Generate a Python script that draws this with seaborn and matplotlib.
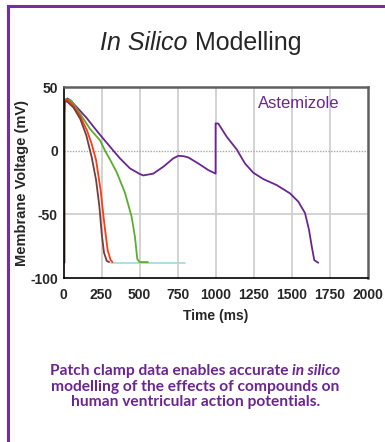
import numpy as np
import pandas as pd
import matplotlib
matplotlib.use("Agg")
import matplotlib.pyplot as plt
from matplotlib.lines import Line2D
import seaborn as sns

# ---- data ----
control_t = [0, 0, 6, 20, 65, 110, 150, 185, 214, 236, 251, 266, 284, 300]
control_v = [-88, 30, 38, 39, 34, 25, 12, -5, -23, -44, -65, -80, -86.5, -87.5]

red_t = [3, 4, 8, 25, 60, 110, 154, 186, 214, 244, 268, 290, 310, 322]
red_v = [-88, 30, 39.5, 40, 36, 27, 16, 5, -7.4, -31, -57, -78, -86, -87.5]

green_t = [5, 6, 10, 50, 109, 175, 241, 273, 306, 350, 404, 448, 470, 485, 500, 555]
green_v = [-88, 30, 40.5, 39.5, 29, 17, 8, 0, -7, -17, -33, -52, -68, -85, -87.5, -87.5]

cyan_t = [310, 500, 800]
cyan_v = [-88, -88, -88]

astem_t = [6, 7, 12, 25, 40, 54, 150, 233, 328, 371, 437, 503, 525, 590, 656, 722, 755,
           790, 821, 886, 952, 1000, 1000, 1018, 1073, 1139, 1193, 1248, 1314, 1402, 1489,
           1544, 1588, 1614, 1632, 1649, 1675]
astem_v = [-88, 30, 39.5, 41, 40, 38.5, 26, 13.5, 0, -6, -13.9, -18.4, -19.4, -18, -12.6, -6,
           -4, -4.3, -5.3, -10, -15.2, -18, 21.5, 21.3, 11, 1, -10, -17.3, -22.3, -27, -33.5,
           -40, -49, -62, -75, -86, -88]

series_names = ["Control", "Compound A", "Compound B", "Baseline", "Astemizole"]
series_t = [control_t, red_t, green_t, cyan_t, astem_t]
series_v = [control_v, red_v, green_v, cyan_v, astem_v]
colors = ["#7a3b3b", "#ff3b12", "#5aae2b", "#a6dfda", "#6b2590"]
draw_order = ["Baseline", "Astemizole", "Compound B", "Compound A", "Control"]

x_ticks = [0, 250, 500, 750, 1000, 1250, 1500, 1750, 2000]
y_ticks = [-100, -50, 0, 50]

frames = []
for name, t, v in zip(series_names, series_t, series_v):
    frames.append(pd.DataFrame({"Time": t, "Voltage": v, "Series": name}))
df = pd.concat(frames, ignore_index=True)
palette = dict(zip(series_names, colors))

# ---- figure ----
sns.set_theme(style="white")
plt.rcParams["font.family"] = ["Liberation Sans", "DejaVu Sans"]

fig = plt.figure(figsize=(3.85, 4.42), dpi=100)
ax = fig.add_axes([0.165, 0.371, 0.79, 0.432])

# grid
for xt in x_ticks[1:-1]:
    ax.axvline(xt, color="#d0d0d0", lw=1.3, zorder=0)
ax.axhline(-50, color="#d0d0d0", lw=1.3, zorder=0)
ax.axhline(0, color="#a8a8a8", lw=1.0, ls=(0, (1, 1)), zorder=0)

for name in draw_order:
    sub = df[df["Series"] == name]
    sns.lineplot(data=sub, x="Time", y="Voltage", color=palette[name], sort=False,
                 estimator=None, lw=1.3, legend=False, ax=ax)

ax.set_xlim(0, 2000)
ax.set_ylim(-100, 50)
ax.set_xticks(x_ticks)
ax.set_yticks(y_ticks)
ax.set_xticklabels([str(t) for t in x_ticks], fontsize=10, fontweight="bold")
ax.set_yticklabels([str(t) for t in y_ticks], fontsize=10, fontweight="bold")
ax.tick_params(axis="x", direction="out", length=3, width=1, color="black", pad=4)
ax.tick_params(axis="y", direction="out", length=3, width=1, color="black", pad=1)
ax.set_xlabel("Time (ms)", fontsize=10, fontweight="bold", labelpad=5)
ax.set_ylabel("Membrane Voltage (mV)", fontsize=10.5, fontweight="bold", labelpad=1)

for side in ["left", "bottom"]:
    ax.spines[side].set_color("black")
    ax.spines[side].set_linewidth(1.2)
for side in ["top", "right"]:
    ax.spines[side].set_color("#606060")
    ax.spines[side].set_linewidth(1.8)

ax.text(1548, 37.4, "Astemizole", color="#6b2590", fontsize=12, ha="center", va="center")

renderer = fig.canvas.get_renderer()
W = fig.bbox.width


def two_part_line(cx, y, part1, part2, kw1, kw2):
    """Place two differently styled texts so the joined line is centred at cx."""
    t1 = fig.text(0, y, part1, ha="left", va="center", **kw1)
    t2 = fig.text(0, y, part2, ha="left", va="center", **kw2)
    w1 = t1.get_window_extent(renderer).width / W
    w2 = t2.get_window_extent(renderer).width / W
    x0 = cx - (w1 + w2) / 2
    t1.set_x(x0)
    t2.set_x(x0 + w1)


# title
two_part_line(0.5216, 0.902, "In Silico ", "Modelling",
              dict(fontsize=18, style="italic"), dict(fontsize=18))

# caption
cap_color = "#6b2590"
cap_font = ["Lato", "DejaVu Sans"]
cap_kw = dict(fontsize=11.2, fontweight="bold", color=cap_color, family=cap_font)
two_part_line(0.507, 0.161, "Patch clamp data enables accurate ", "in silico",
              cap_kw, dict(cap_kw, style="italic"))
fig.text(0.507, 0.1244, "modelling of the effects of compounds on", ha="center",
         va="center", **cap_kw)
fig.text(0.507, 0.0905, "human ventricular action potentials.", ha="center",
         va="center", **cap_kw)

# purple frame
frame_c = "#70309f"
fig.add_artist(Line2D([7.5 / 385, 7.5 / 385], [0, 1 - 6 / 442], color=frame_c, lw=2.2,
                      transform=fig.transFigure, solid_capstyle="projecting"))
fig.add_artist(Line2D([7.5 / 385, 1], [1 - 6 / 442, 1 - 6 / 442], color=frame_c, lw=2.2,
                      transform=fig.transFigure, solid_capstyle="projecting"))

fig.savefig("out.png", dpi=100)
